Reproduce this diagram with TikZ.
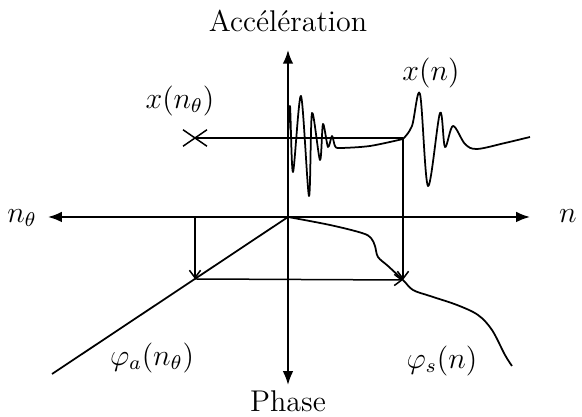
\documentclass[tikz,border=0pt]{standalone}
\usetikzlibrary{arrows.meta,shapes.misc}
\begin{document}
\begin{tikzpicture}[x=0.4pt,y=-0.4pt,
  axis/.style={line width=0.7pt,-{Latex[length=5.5pt,width=4.2pt]}},
  thin line/.style={line width=0.6pt},
  guide/.style={line width=0.6pt,-{Straight Barb[length=3pt,width=4.5pt]}},
  sig/.style={line width=0.7pt,line join=round},
  lbl/.style={inner sep=1pt,font=\large}]
\useasboundingbox (0,0) rectangle (582,417);
\coordinate (O) at (288,217);
\coordinate (top) at (288,50);
\coordinate (bot) at (288,385);
\coordinate (lft) at (48,217);
\coordinate (rgt) at (530,217);
% axes
\draw[axis] (O) -- (top);
\draw[axis] (O) -- (bot);
\draw[axis] (O) -- (lft);
\draw[axis] (O) -- (rgt);
% labels
\node[lbl] (acc) at (288,21) {Acc\'el\'eration};
\node[lbl] (ph) at (288,401) {Phase};
\node[lbl] (nth) at (22,218) {$n_\theta$};
\node[lbl] (n) at (568,216) {$n$};
\node[lbl] (xnth) at (180,101) {$x(n_\theta)$};
\node[lbl] (xn) at (431,73) {$x(n)$};
\node[lbl] (pa) at (152,358) {$\varphi_a(n_\theta)$};
\node[lbl] (ps) at (442,361) {$\varphi_s(n)$};
% cross marker
\node[cross out,draw,line width=0.6pt,minimum width=9pt,minimum height=6pt,inner sep=0pt] (cx) at (195,138) {};
\coordinate (A) at (403,138);
\coordinate (B) at (403,280);
\coordinate (C) at (195,217);
\coordinate (D) at (195,279);
\coordinate (E) at (52,374);
% construction lines
\draw[thin line] (cx.center) -- (A);
\draw[guide] (A) -- (B);
\draw[guide] (C) -- (D);
\draw[guide] (D) -- (B);
% phi_a line
\draw[sig] (O) -- (E);
% phi_s curve
\draw[sig] plot[smooth,tension=0.55] coordinates {(288,217) (330,225) (362,233) (371,238) (375,246) (378,257) (388,266) (403,280) (413,290) (430,296) (457,305) (478,315) (492,330) (505,355) (512,366)};
% signal 1
\draw[sig] plot[smooth,tension=0.5] coordinates {(288,138) (290,106) (293,172) (301,96) (309,196) (312,113) (320,160) (323,124) (328,147) (332,136) (335,146) (340,148) (370,146) (403,139)};
% signal 2
\draw[sig] plot[smooth,tension=0.55] coordinates {(403,139) (412,126) (420,94) (428,186) (440,113) (445,147) (453,126) (465,144) (477,149) (505,143) (530,137)};
\end{tikzpicture}
\end{document}
